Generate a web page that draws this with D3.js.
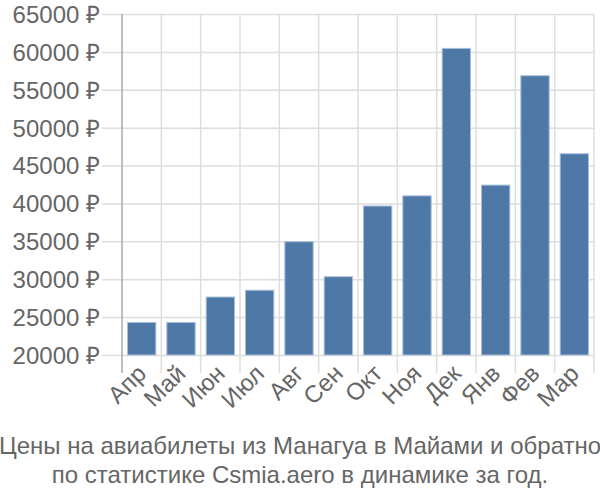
<!DOCTYPE html>
<html><head><meta charset="utf-8">
<script src="https://cdn.jsdelivr.net/npm/d3@7"></script>
<style>body{margin:0;background:#fff}svg{display:block}text{font-family:"Liberation Sans",Arial,sans-serif}</style>
</head><body>
<svg id="c" width="600" height="500"></svg>
<script>
const categories = ["Апр","Май","Июн","Июл","Авг","Сен","Окт","Ноя","Дек","Янв","Фев","Мар"];
const values = [24300,24300,27650,28550,34950,30330,39660,41000,60460,42420,56850,46560];
const yTicks = [20000,25000,30000,35000,40000,45000,50000,55000,60000,65000];
const title = ["Цены на авиабилеты из Манагуа в Майами и обратно","по статистике Csmia.aero в динамике за год."];

(function(){
const svg = d3.select("#c");
const mL = 122, mR = 594, mT = 14, mB = 355;
const fs = 24;
const x = d3.scaleBand().domain(categories).range([mL, mR]).padding(0);
const y = d3.scaleLinear().domain([20000, 65000]).range([mB, mT]);
const grid = "#dedede";

const yAxis = svg.append("g").attr("transform", `translate(${mR},0)`)
  .call(d3.axisLeft(y).tickValues(yTicks).tickSize(mR - 102).tickFormat(d => d + " ₽"));
yAxis.attr("font-size", null).attr("font-family", null);
yAxis.select(".domain").remove();
yAxis.selectAll("line").attr("stroke", grid).attr("stroke-width", 1.5);
yAxis.selectAll("text").attr("fill", "#666").style("font-size", fs + "px").attr("x", -(mR - 102) - 2).attr("dy", "0.35em");

const bounds = categories.map(c => x(c)).concat([x(categories[categories.length-1]) + x.bandwidth()]);
svg.append("g").selectAll("line").data(bounds.slice(1)).join("line")
  .attr("x1", d => d).attr("x2", d => d).attr("y1", mT).attr("y2", mB + 18)
  .attr("stroke", grid).attr("stroke-width", 1.5);
svg.append("line").attr("x1", mL).attr("x2", mL).attr("y1", mT).attr("y2", mB + 18)
  .attr("stroke", "#aaa").attr("stroke-width", 1.5);

const bw = x.bandwidth();
svg.append("g").selectAll("rect").data(values).join("rect")
  .attr("x", (d, i) => x(categories[i]) + bw * 0.14)
  .attr("width", bw * 0.72)
  .attr("y", d => y(d))
  .attr("height", d => y(20000) - y(d))
  .attr("fill", "#4e78a6")
  .attr("stroke", "#a8bfdb").attr("stroke-width", 1);

svg.append("g").selectAll("text").data(categories).join("text")
  .attr("transform", d => `translate(${x(d) + bw/2 + 6},${mB + 20}) rotate(-45)`)
  .attr("text-anchor", "end").attr("fill", "#666").style("font-size", fs + "px")
  .text(d => d);

svg.append("g").selectAll("text").data(title).join("text")
  .attr("x", 300).attr("y", (d, i) => 454 + i * 29)
  .attr("text-anchor", "middle").attr("fill", "#666").style("font-size", fs + "px")
  .text(d => d);
})();
</script>
</body></html>
